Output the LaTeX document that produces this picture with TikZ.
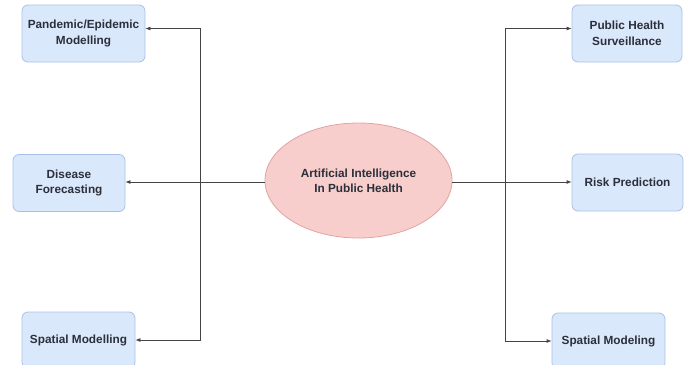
\documentclass[tikz,border=0pt]{standalone}
\usepackage{fontspec}
\setmainfont{Liberation Sans}
\usetikzlibrary{arrows.meta,shapes.geometric}
\definecolor{boxfill}{HTML}{DAE8FC}
\definecolor{boxdraw}{HTML}{A9C1E8}
\definecolor{ellfill}{HTML}{F8CECC}
\definecolor{elldraw}{HTML}{E3A3A3}
\definecolor{txt}{HTML}{2B2F3A}
\definecolor{wire}{HTML}{444444}
\tikzset{
  topic/.style={draw=boxdraw,fill=boxfill,rounded corners=6pt,line width=0.8pt,
    minimum width=#1,minimum height=57pt,inner sep=2pt,align=center,
    font=\fontsize{11.8}{15.5}\selectfont\bfseries,text=txt},
  topic/.default=112pt,
  hub/.style={ellipse,draw=elldraw,fill=ellfill,line width=0.8pt,
    minimum width=187pt,minimum height=115pt,inner sep=0pt,align=center,
    font=\fontsize{11.8}{15}\selectfont\bfseries,text=txt},
  wireline/.style={draw=wire,line width=0.8pt},
  arr/.style={wireline,-{Latex[length=5pt,width=4pt]}}
}
\begin{document}
\begin{tikzpicture}[x=1pt,y=-1pt]
\useasboundingbox (0,0) rectangle (692,364);
\fill[white] (0,0) rectangle (692,364);
\node[hub] (ai) at (358.5,180.5) {Artificial Intelligence\\In Public Health};
\node[topic=123pt] (pan) at (83.5,33.5) {Pandemic/Epidemic\\Modelling};
\node[topic=112pt] (dis) at (69,183) {Disease\\Forecasting};
\node[topic=113pt,minimum height=56pt] (spl) at (78.5,340) {Spatial Modelling};
\node[topic=110pt] (phs) at (627,33.5) {Public Health\\Surveillance};
\node[topic=111pt] (risk) at (627.5,182.5) {Risk Prediction};
\node[topic=113pt,minimum height=56pt] (spr) at (608.5,341) {Spatial Modeling};
\coordinate (jl) at (200,182);
\coordinate (jr) at (505,182);
% left tree
\draw[arr] (ai.west |- jl) -- (dis.east |- jl);
\draw[arr] (jl) |- ([yshift=5pt]pan.east);
\draw[arr] (jl) |- (spl.east);
% right tree
\draw[arr] (ai.east |- jr) -- (risk.west |- jr);
\draw[arr] (jr) |- ([yshift=5pt]phs.west);
\draw[arr] (jr) |- (spr.west);
\end{tikzpicture}
\end{document}
